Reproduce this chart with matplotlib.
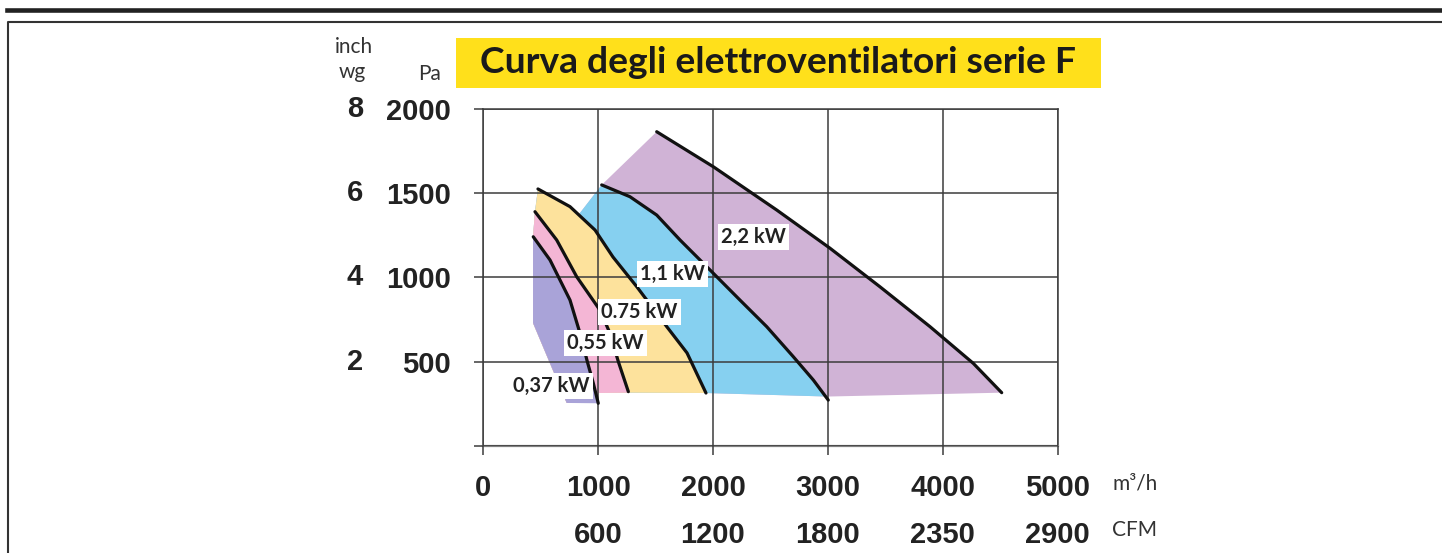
import matplotlib.pyplot as plt
from matplotlib.lines import Line2D
from matplotlib.patches import Rectangle, Polygon

# portata (m3/h) e pressione (Pa) lungo ogni curva
q_037 = [435, 581, 755, 842, 906, 958, 1001]
p_037 = [1241, 1103, 865, 668, 499, 371, 252]
q_055 = [450, 639, 813, 1016, 1103, 1176, 1263]
p_055 = [1390, 1222, 1004, 805, 668, 499, 321]
q_075 = [476, 755, 973, 1129, 1338, 1600, 1774, 1939]
p_075 = [1525, 1420, 1281, 1121, 943, 705, 551, 313]
q_11 = [1031, 1277, 1510, 1713, 1974, 2235, 2468, 2699, 2874, 3004]
p_11 = [1549, 1479, 1370, 1222, 1044, 865, 707, 529, 390, 271]
q_22 = [1510, 2003, 2555, 3019, 3454, 3890, 4267, 4514]
p_22 = [1865, 1657, 1400, 1173, 944, 707, 489, 315]

# contorno delle zone colorate: fondo (da destra) e bordo sinistro (dal basso)
bot_q = [3000, 1935, 1260, 1003, 1003, 726]
bot_p = [292, 313, 315, 313, 254, 254]
env_q = [433, 433, 450, 476, 755, 830, 1031]
env_p = [729, 1241, 1390, 1525, 1420, 1372, 1549]

labels = ["0,37 kW", "0,55 kW", "0.75 kW", "1,1 kW", "2,2 kW"]
lbl_q = [259, 729, 1029, 1365, 2070]
lbl_p = [356, 609, 797, 1021, 1240]
colors = ["#a9a3d8", "#f4b6d5", "#fde29c", "#86d0f0", "#d0b3d6"]

x_ticks = [0, 1000, 2000, 3000, 4000, 5000]
cfm = ["", "600", "1200", "1800", "2350", "2900"]
y_ticks = [0, 500, 1000, 1500, 2000]
y_pa = ["", "500", "1000", "1500", "2000"]
y_inch = ["", "2", "4", "6", "8"]

curves = [(q_037, p_037), (q_055, p_055), (q_075, p_075), (q_11, p_11), (q_22, p_22)]

W, H = 1442, 553
fig = plt.figure(figsize=(W / 100, H / 100), dpi=100)
ax = fig.add_axes([483.3 / W, 1 - 445.7 / H, 574.2 / W, 336.7 / H])
ax.set_xlim(0, 5000)
ax.set_ylim(0, 2000)


def region(q, p):
    pts = list(zip(q, p))
    pts += [(x, y) for x, y in zip(bot_q, bot_p) if x < q[-1]]
    pts += [(x, y) for x, y in zip(env_q, env_p) if x < q[0]]
    return pts


# dalla zona più grande alla più piccola
for (q, p), c in reversed(list(zip(curves, colors))):
    ax.add_patch(Polygon(region(q, p), closed=True, fc=c, ec="none", zorder=1))

ax.set_axisbelow(False)
ax.grid(True, color="#3c3c3c", lw=1.1, zorder=2)

for q, p in curves:
    ax.plot(q, p, color="#111111", lw=2.3, solid_capstyle="round", solid_joinstyle="round", zorder=3)

for t, x, y in zip(labels, lbl_q, lbl_p):
    ax.text(x, y, t, fontsize=14.5, fontweight="bold", family="Lato", color="#222222",
            va="center", ha="left", zorder=4,
            bbox=dict(boxstyle="square,pad=0.15", fc="white", ec="none"))

for s in ax.spines.values():
    s.set_color("#3c3c3c")
    s.set_linewidth(1.1)
ax.spines["bottom"].set_color("#808080")
ax.spines["bottom"].set_linewidth(1.6)

ax.set_xticks(x_ticks)
ax.set_xticklabels([str(v) for v in x_ticks])
ax.set_yticks(y_ticks)
ax.set_yticklabels(y_pa)
ax.tick_params(direction="out", length=6.5, width=1.1, color="#3c3c3c")
ax.tick_params(axis="x", pad=14)
ax.tick_params(axis="y", pad=17)
for lab in ax.get_xticklabels() + ax.get_yticklabels():
    lab.set_family("Liberation Sans")
    lab.set_fontweight("bold")
    lab.set_fontsize(21)
    lab.set_color("#222222")

tick_font = dict(family="Liberation Sans", fontweight="bold", fontsize=21, color="#222222")
for y, t in zip(y_ticks, y_inch):
    ax.text(-0.2234, y, t, transform=ax.get_yaxis_transform(), ha="center", va="center", **tick_font)
for x, t in zip(x_ticks, cfm):
    ax.text(x, -0.2640, t, transform=ax.get_xaxis_transform(), ha="center", va="center", **tick_font)

unit_font = dict(family="Lato", fontweight="normal", fontsize=15, color="#333333")
fig.text(1112 / W, 1 - 483 / H, "m³/h", ha="left", va="center", **unit_font)
fig.text(1112 / W, 1 - 530 / H, "CFM", ha="left", va="center", **unit_font)
fig.text(354 / W, 1 - 53 / H, "inch", ha="center", va="baseline", **unit_font)
fig.text(352 / W, 1 - 78 / H, "wg", ha="center", va="baseline", **unit_font)
fig.text(430 / W, 1 - 80 / H, "Pa", ha="center", va="baseline", **unit_font)

# titolo su fondo giallo
fig.add_artist(Rectangle((456 / W, 1 - 87.7 / H), (1101 - 456) / W, 50 / H,
                         transform=fig.transFigure, fc="#ffe01b", ec="none"))
fig.text(480 / W, 1 - 63 / H, "Curva degli elettroventilatori serie F", ha="left", va="center",
         family="Lato", fontweight="bold", fontsize=26.8, color="#1a1a1a")

# cornice della pagina
fig.add_artist(Line2D([7 / W, 1], [1 - 9.5 / H] * 2, lw=3.3, color="#222222"))
fig.add_artist(Line2D([8.3 / W, 8.3 / W, 1], [0, 1 - 21.7 / H, 1 - 21.7 / H], lw=1.5, color="#333333"))

fig.savefig("out.png", dpi=100)
